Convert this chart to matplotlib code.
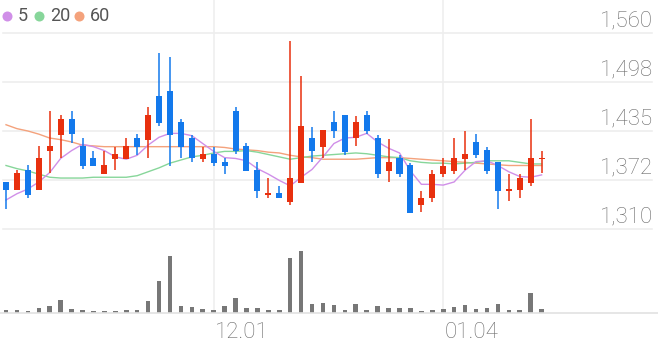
import numpy as np
import matplotlib.pyplot as plt
from matplotlib import transforms

plt.rcParams['font.family'] = ['Roboto', 'DejaVu Sans']

# 일봉 (시가, 고가, 저가, 종가)
opens = [1370, 1360, 1385, 1360, 1410, 1430, 1450, 1416, 1401, 1380,
         1399, 1399, 1426, 1424, 1480, 1486, 1446, 1426, 1399, 1406,
         1396, 1460, 1416, 1385, 1354, 1356, 1345, 1369, 1426, 1415,
         1446, 1455, 1426, 1455, 1426, 1384, 1401, 1391, 1341, 1350,
         1380, 1384, 1399, 1421, 1411, 1395, 1359, 1360, 1369, 1399]
highs = [1370, 1385, 1391, 1416, 1460, 1455, 1460, 1426, 1410, 1410,
         1415, 1426, 1431, 1465, 1535, 1530, 1450, 1430, 1415, 1415,
         1401, 1465, 1420, 1395, 1375, 1365, 1550, 1505, 1440, 1436,
         1460, 1455, 1454, 1460, 1430, 1425, 1404, 1394, 1359, 1385,
         1400, 1426, 1435, 1431, 1415, 1395, 1380, 1380, 1450, 1410]
lows = [1336, 1360, 1350, 1360, 1381, 1400, 1420, 1386, 1390, 1380,
        1385, 1399, 1405, 1400, 1441, 1390, 1400, 1395, 1395, 1390,
        1380, 1406, 1384, 1350, 1350, 1349, 1341, 1369, 1395, 1401,
        1426, 1405, 1416, 1431, 1375, 1370, 1376, 1330, 1332, 1344,
        1376, 1380, 1385, 1400, 1380, 1336, 1346, 1350, 1365, 1381]
closes = [1360, 1381, 1354, 1401, 1416, 1450, 1431, 1390, 1390, 1391,
          1406, 1416, 1415, 1455, 1445, 1430, 1415, 1400, 1406, 1394,
          1390, 1410, 1384, 1359, 1356, 1349, 1375, 1441, 1410, 1436,
          1435, 1408, 1446, 1435, 1380, 1395, 1380, 1330, 1350, 1380,
          1390, 1401, 1406, 1404, 1384, 1359, 1361, 1375, 1401, 1401]

# 이동평균선
ma5 = [1347, 1355, 1361, 1370, 1382, 1400, 1410, 1418, 1415, 1410,
       1402, 1399, 1404, 1417, 1427, 1432, 1432, 1429, 1419, 1409,
       1401, 1400, 1397, 1387, 1380, 1372, 1365, 1376, 1386, 1402,
       1419, 1426, 1427, 1432, 1421, 1413, 1407, 1384, 1367, 1367,
       1366, 1370, 1385, 1396, 1397, 1391, 1383, 1377, 1376, 1379]
ma20 = [1391, 1387, 1384, 1380, 1376, 1375, 1375, 1375, 1376, 1376,
        1376, 1376, 1378, 1383, 1388, 1394, 1398, 1402, 1404, 1407,
        1409, 1409, 1410, 1408, 1405, 1402, 1399, 1401, 1403, 1404,
        1405, 1406, 1407, 1406, 1404, 1402, 1401, 1397, 1395, 1394,
        1394, 1393, 1394, 1395, 1397, 1397, 1397, 1395, 1393, 1393]
ma60 = [1443, 1438, 1435, 1431, 1426, 1424, 1421, 1417, 1416, 1415,
        1415, 1415, 1415, 1415, 1415, 1415, 1415, 1415, 1415, 1415,
        1414, 1412, 1411, 1410, 1408, 1407, 1404, 1402, 1401, 1399,
        1399, 1399, 1399, 1400, 1401, 1401, 1401, 1400, 1399, 1398,
        1397, 1396, 1395, 1394, 1393, 1392, 1391, 1391, 1391, 1391]

# 거래량
volumes = [34000, 34000, 20000, 50000, 74000, 130000, 40000, 34000, 24000, 20000,
           24000, 34000, 34000, 120000, 317000, 570000, 67000, 57000, 40000, 34000,
           74000, 150000, 47000, 47000, 34000, 34000, 550000, 617000, 90000, 97000,
           84000, 34000, 87000, 34000, 70000, 50000, 50000, 50000, 20000, 34000,
           40000, 64000, 80000, 40000, 50000, 87000, 34000, 34000, 200000, 40000]

tick_idx = [19, 40]
tick_labels = ['12.01', '01.04']
price_ticks = [1310, 1372.5, 1435, 1497.5, 1560]
price_labels = ['1,310', '1,372', '1,435', '1,498', '1,560']

RED = '#e8300e'
BLUE = '#1379ec'
GRID = '#eeeeee'
TXT = '#6b6b6b'

W, H = 658, 342


def px_box(x0, y0, x1, y1):
    return [x0 / W, 1 - y1 / H, (x1 - x0) / W, (y1 - y0) / H]


fig = plt.figure(figsize=(W / 100, H / 100), dpi=100)
ax_bg = fig.add_axes(px_box(0, 0, W, 313))
ax = fig.add_axes(px_box(0, 33, W, 229))
ax_v = fig.add_axes(px_box(0, 243, W, 313))
ax_top = fig.add_axes([0, 0, 1, 1])

x = np.arange(len(closes))
xlim = (-0.55, 59.65)
for a in (ax_bg, ax, ax_v):
    a.set_xlim(*xlim)
    a.set_facecolor('none')
    a.axis('off')
ax_top.set_xlim(0, W)
ax_top.set_ylim(H, 0)
ax_top.axis('off')
ax_top.set_facecolor('none')

# 세로 그리드 (날짜)
for t in tick_idx:
    ax_bg.axvline(t, color=GRID, lw=1.1, zorder=0)

# 가격 그리드 + 라벨
ax.set_ylim(1310, 1560)
lab_tr = transforms.offset_copy(ax.get_yaxis_transform(), fig=fig, y=4.5, units='points')
for p, lab in zip(price_ticks, price_labels):
    ax.axhline(p, xmin=3 / W, xmax=652 / W, color=GRID, lw=1.2, clip_on=False, zorder=0)
    ax.text(653 / W, p, lab, transform=lab_tr, ha='right', va='baseline',
            fontsize=16, color=TXT, fontweight='light')

# 캔들
o = np.array(opens)
c = np.array(closes)
colors = np.where(c >= o, RED, BLUE)
ax.vlines(x, lows, highs, colors=colors, lw=1.1, zorder=3)
ax.bar(x, np.maximum(np.abs(c - o), 1.2), bottom=np.minimum(o, c), width=0.55,
       color=colors, linewidth=0, zorder=4)

ax.plot(x, ma60, color='#f4a27c', lw=1.0, zorder=2)
ax.plot(x, ma20, color='#87d69a', lw=1.0, zorder=2)
ax.plot(x, ma5, color='#d08fe8', lw=1.0, zorder=2)

# 거래량
ax_v.set_ylim(0, 700000)
ax_v.bar(x, volumes, width=0.42, color='#777777', linewidth=0)
ax_v.axhline(0, color='#e2e2e2', lw=1.2, clip_on=False)
for t, lab in zip(tick_idx, tick_labels):
    ax_v.text(t + 0.15, -0.35, lab, transform=ax_v.get_xaxis_transform(),
              ha='left', va='baseline', fontsize=16, color=TXT, fontweight='light')

# 범례
legend = [('5', '#d08fe8', 6.7), ('20', '#87d69a', 39.3), ('60', '#f4a27c', 79)]
for name, col, cx in legend:
    ax_top.scatter([cx], [16], s=52, color=col, linewidths=0)
    ax_top.text(cx + 10.5, 16, name, ha='left', va='center', fontsize=13, color='#555555')

fig.savefig('out.png', dpi=100)
